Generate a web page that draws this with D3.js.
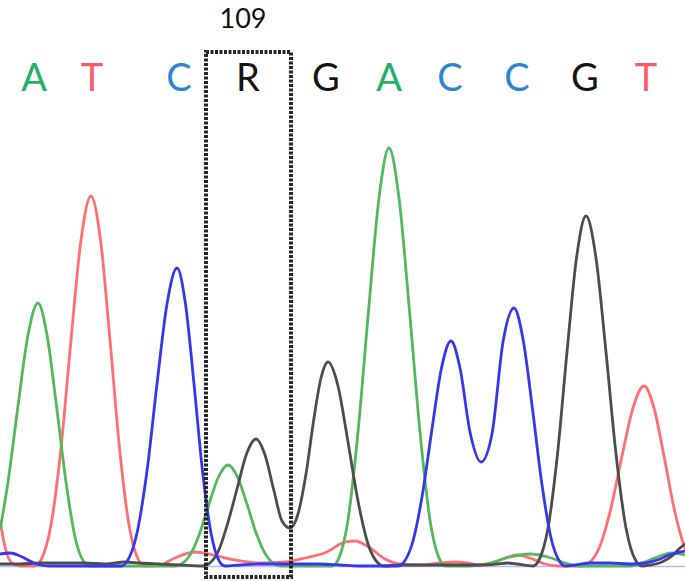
<!DOCTYPE html>
<meta charset="utf-8">
<style>
body { margin: 0; background: #fff; }
.trace { fill: none; stroke-width: 2.8px; stroke-linejoin: round; }
.call { font-family: Lato, "Open Sans", sans-serif; font-size: 38px; text-anchor: middle; }
.site { font-family: Lato, "Open Sans", sans-serif; font-size: 27px; text-anchor: middle; fill: #111; }
</style>
<body>
<script src="https://cdn.jsdelivr.net/npm/d3@7"></script>
<script>

// base calls and where they sit along the trace
var calls = ["A", "T", "C", "R", "G", "A", "C", "C", "G", "T"];
var callPos = [34, 92, 179, 248, 326, 389, 450, 517, 585, 646];

// highlighted heterozygous site
var siteLabel = "109";
var sitePos = 243;
var boxFrom = 206, boxTo = 291;

// trace samples [position, signal]
var traceA = [[0,36],[8,84],[18,160],[28,231],[38,263],[47,231],[56.5,160],[66,84],[75,29],[84,4],[90,0],
  [175,0],[180.5,1.5],[190,11],[199.5,32],[209,62],[218.5,89],[228,101],[237.5,89],[247,62],[256.5,32],[266,11],[275.5,1.5],[281,0],
  [332,0],[338,6],[348,46],[358,134],[368.5,255],[379,368],[389,418],[399,368],[409.5,255],[420,134],[430,46],[440,6],[446,0],
  [470,0],[490,3],[510,9],[530,12],[548,9],[565,3],[580,0],[630,0],[645,4],[660,10],[672,13],[685,11]];

var traceT = [[0,46],[5,19],[12,3],[20,0],[35,0],[41,6],[51,41],[61,118],[71,226],[81,326],[91,370],
  [100.5,326],[110,226],[119.5,118],[129,41],[138.5,6],[144,0],
  [160,1],[175,8],[195,14],[213,11],[235,6],[260,3],[285,4],[305,8],[327,14],[345,24],[355,25],[370,18],[385,7],[400,2],
  [420,1],[440,3],[455,4],[467,3],[480,1],[490,2],[505,8],[517,11],[530,8],[545,2],[560,0],
  [582,0],[589,3],[600,20],[611,58],[622,110],[633,158],[644,180],[654,158],[664,110],[674,58],[684,20],[685,17]];

var traceC = [[0,12],[10,13],[20,10],[30,5],[40,1],[50,0],[121,0],[127,4.5],[137,33],[147,95],[157,182],[167,262],[177,298],
  [185.5,262],[194,182],[202.5,95],[211,33],[219.5,4.5],[225,0],
  [240,1],[260,2],[280,2],[300,2],[320,2],[340,1],[360,0],
  [398,0],[403.5,3.4],[413,25],[422.5,72],[432,137],[441.5,198],[451,225],[460,198],[470,134],[481,104],[492,132],[503,224],[514,258],
  [523,227],[532.5,157],[541.75,83],[551,28],[560,4],[565,0],
  [575,1],[590,3],[610,3],[630,2],[645,3],[660,7],[672,12],[685,15]];

var traceG = [[0,2],[20,2],[40,3],[60,3],[85,3],[105,2],[125,4],[140,3],[160,2],[180,1],[203,0],
  [208.5,2],[218,14],[227.5,42],[237,77],[246.5,112],[256,127],[265,111],[274,75],[282,45],[290,38],[298,52],[306,92],[314,148],[321,188],[328,204],
  [338,180],[348,124],[358,65],[368,22],[378,3],[384,0],
  [400,1],[440,1],[480,1],[497,2],[507,3],[517,2],[533,0],
  [538.5,5],[548,38],[557.5,112],[567,214],[576.5,308],[586,350],[596,308],[606,214],[616,112],[626,38],[636,5],[642,0],
  [650,1],[662,4],[672,10],[680,18],[685,22]];

var colors = { A: "#55b85c", T: "#ff6f74", C: "#3636ec", G: "#4d4d4d" };
var callColors = { A: "#25b06a", T: "#ff5a6c", C: "#2d86d0", G: "#141414", R: "#141414" };

var width = 685, height = 581;

var x = d3.scaleLinear().domain([0, 685]).range([0, width]);
var y = d3.scaleLinear().domain([0, 520]).range([566, 46]);

var svg = d3.select("body").append("svg")
    .attr("width", width)
    .attr("height", height);

var line = d3.line()
    .x(function(d) { return x(d[0]); })
    .y(function(d) { return y(d[1]); })
    .curve(d3.curveMonotoneX);

// faint baseline
svg.append("line")
    .attr("x1", x(0)).attr("x2", x(685))
    .attr("y1", y(0) + 0.5).attr("y2", y(0) + 0.5)
    .style("stroke", "#b9b9f2")
    .style("stroke-width", 1.5);

// traces
var traces = [["T", traceT], ["A", traceA], ["G", traceG], ["C", traceC]];
traces.forEach(function(t) {
    svg.append("path")
        .datum(t[1])
        .attr("class", "trace")
        .style("stroke", colors[t[0]])
        .attr("d", line);
});

// base calls
svg.selectAll(".call")
    .data(calls)
    .enter().append("text")
    .attr("class", "call")
    .attr("x", function(d, i) { return x(callPos[i]); })
    .attr("y", 91)
    .style("fill", function(d) { return callColors[d]; })
    .text(function(d) { return d; });

// dotted box round the site
svg.append("rect")
    .attr("x", x(boxFrom))
    .attr("y", 52)
    .attr("width", x(boxTo) - x(boxFrom))
    .attr("height", 577 - 52)
    .style("fill", "none")
    .style("stroke", "#262626")
    .style("stroke-width", 4)
    .style("stroke-dasharray", "3,1.5");

svg.append("text")
    .attr("class", "site")
    .attr("x", x(sitePos))
    .attr("y", 28)
    .text(siteLabel);

</script>
</body>
